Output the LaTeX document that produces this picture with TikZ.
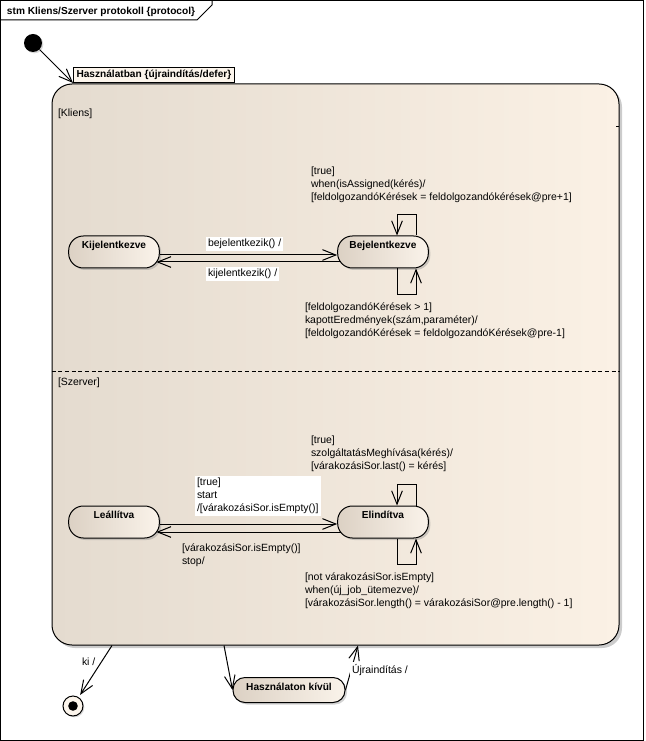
\documentclass[tikz,border=0pt]{standalone}
\usepackage{fontspec}
\setmainfont{Liberation Sans}
\usetikzlibrary{arrows.meta,calc,shadows}
\definecolor{compL}{HTML}{E4DBCF}
\definecolor{compM}{HTML}{F6ECE0}
\definecolor{compR}{HTML}{FBF1E5}
\definecolor{stL}{HTML}{DCD1C4}
\definecolor{stR}{HTML}{FAF3EA}
\definecolor{lblfill}{HTML}{FCF5EC}
\begin{document}
\begin{tikzpicture}[x=0.75pt,y=-0.75pt,
  every node/.style={font=\fontsize{7.85}{9.75}\selectfont},
  boldfont/.style={font=\fontsize{7.6}{9.5}\selectfont\bfseries},
  stbox/.style={draw, line width=0.75pt, rounded corners=11pt, left color=stL, right color=stR,
    minimum width=68pt, inner ysep=3pt, text height=6.6pt, text depth=11.4pt,
    boldfont,
    drop shadow={shadow xshift=1.5pt, shadow yshift=-1.5pt, opacity=0.35}},
  tr/.style={line width=0.75pt, -{Straight Barb[length=10pt,width=8pt,line width=0.75pt]}},
  txt/.style={inner sep=0pt, outer sep=0pt, align=left, anchor=north west},
  wtxt/.style={txt, fill=white, inner sep=1.5pt},
]
\useasboundingbox (0,0) rectangle (645,741);
% frame
\draw[line width=0.75pt] (0.5,0.5) rectangle (643.5,740);
\draw[line width=0.75pt] (0.5,20) -- (197,20) -- (212,5) -- (212,0.5);
\node[txt, boldfont] (title) at (7,7) {stm Kliens/Szerver protokoll \{protocol\}};

% composite state
\node[draw, line width=0.75pt, rounded corners=15pt, left color=compL, middle color=compM, right color=compR,
  minimum width=425.25pt, minimum height=420.75pt, inner sep=0pt,
  drop shadow={shadow xshift=2.25pt, shadow yshift=-2.25pt, opacity=0.4}] (u) at (335.5,364.5) {};
\node[draw, line width=0.75pt, fill=lblfill, inner xsep=2.25pt, inner ysep=2pt, anchor=south west,
  boldfont] (ul) at (73,83) {Használatban \{újraindítás/defer\}};
\draw[line width=0.75pt] (616,127) -- (619,127);
\draw[line width=0.75pt, dash pattern=on 3pt off 2pt] (u.west |- 0,371) -- (u.east |- 0,371);
\node[txt] (rk) at (58,109) {[Kliens]};
\node[txt] (rs) at (58,378) {[Szerver]};

% initial
\node[circle, fill=black, minimum size=13.5pt, inner sep=0pt,
  drop shadow={shadow xshift=1pt, shadow yshift=-1pt, opacity=0.3}] (init) at (33,43) {};
\draw[tr] (init) -- (ul.south west);

% states
\node[stbox] (k) at (114,252) {Kijelentkezve};
\node[stbox] (b) at (383,252) {Bejelentkezve};
\node[stbox] (l) at (114,522) {Leállítva};
\node[stbox] (e) at (383,522) {Elindítva};
\node[stbox, minimum width=84pt, rounded corners=9pt, inner ysep=2pt, text height=8pt, text depth=6.75pt] (h) at (289,690) {Használaton kívül};

% Kliens transitions
\draw[tr] ($(k.east)+(0,3)$) -- ($(b.west)+(0,3)$);
\draw[tr] ($(b.west)+(3.5,10)$) -- ($(k.east)+(-3.5,10)$);
\node[wtxt] (t1) at (206,237) {bejelentkezik() /};
\node[wtxt] (t2) at (206,267) {kijelentkezik() /};
\draw[tr] ($(b.north)+(33,0)$) -- ++(0,-21) -| ($(b.north)+(14,0)$);
\draw[tr] ($(b.south)+(14,0)$) -- ++(0,26) -| ($(b.south)+(33,0)$);
\node[txt] (t3) at (311,167) {[true]\\when(isAssigned(kérés)/\\{}[feldolgozandóKérések = feldolgozandókérések@pre+1]};
\node[txt] (t4) at (305,303) {[feldolgozandóKérések > 1]\\kapottEredmények(szám,paraméter)/\\{}[feldolgozandóKérések = feldolgozandóKérések@pre-1]};

% Szerver transitions
\draw[tr] ($(l.east)+(0,2)$) -- ($(e.west)+(0,2)$);
\draw[tr] ($(e.west)+(3.5,10)$) -- ($(l.east)+(-3.5,10)$);
\node[wtxt] (t5) at (195,476) {[true]\\start\\/[várakozásiSor.isEmpty()]};
\node[txt] (t6) at (182,544) {[várakozásiSor.isEmpty()]\\stop/};
\draw[tr] ($(e.north)+(33,0)$) -- ++(0,-21) -| ($(e.north)+(14,0)$);
\draw[tr] ($(e.south)+(14,0)$) -- ++(0,26) -| ($(e.south)+(33,0)$);
\node[txt] (t7) at (311,436) {[true]\\szolgáltatásMeghívása(kérés)/\\{}[várakozásiSor.last() = kérés]};
\node[txt] (t8) at (305,573) {[not várakozásiSor.isEmpty]\\when(új\_job\_ütemezve)/\\{}[várakozásiSor.length() = várakozásiSor@pre.length() - 1]};

% final
\node[circle, draw, line width=0.75pt, fill=lblfill, minimum size=15pt, inner sep=0pt,
  drop shadow={shadow xshift=1pt, shadow yshift=-1pt, opacity=0.3}] (fin) at (73,706) {};
\fill (fin.center) circle[radius=3.6pt];
\draw[tr, shorten >=2pt] ($(u.south)+(-223.5,0)$) -- (fin);
\node[txt, anchor=west] (t9) at (82,662) {ki /};

% out of use
\draw[tr] ($(u.south)+(-111.5,0)$) -- (h.west);
\draw[tr] (h.east) -- ($(u.south)+(22.5,0)$);
\node[wtxt, anchor=west] (t10) at (350,670) {Újraindítás /};
\end{tikzpicture}
\end{document}
